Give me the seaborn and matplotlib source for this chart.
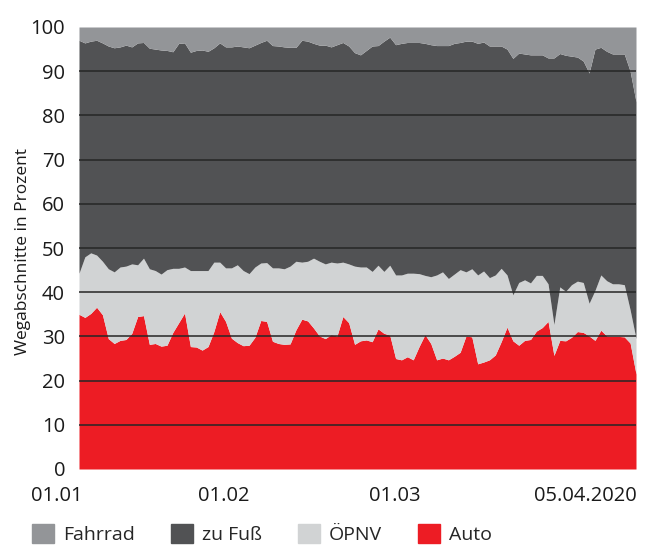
import numpy as np
import pandas as pd
import seaborn as sns
import matplotlib.pyplot as plt
from matplotlib.patches import Patch

# daily shares of trips (Wegabschnitte) in percent, 01.01.2020 - 05.04.2020
auto = [35.0, 34.3, 35.2, 36.6, 34.9, 29.5, 28.4, 29.1, 29.3, 30.7,
        34.5, 34.7, 28.2, 28.4, 27.8, 28.0, 30.9, 33.1, 35.3, 27.7,
        27.6, 26.9, 27.7, 31.1, 35.6, 33.4, 29.6, 28.6, 27.9, 28.0,
        29.8, 33.6, 33.4, 28.9, 28.4, 28.2, 28.3, 31.5, 33.9, 33.5,
        31.9, 30.1, 29.5, 30.4, 30.1, 34.5, 33.1, 28.2, 29.0, 29.2,
        28.8, 31.7, 30.7, 30.3, 25.0, 24.7, 25.4, 24.7, 27.7, 30.4,
        28.4, 24.7, 25.1, 24.7, 25.5, 26.4, 30.1, 29.9, 23.8, 24.2,
        24.7, 25.8, 28.8, 32.1, 29.0, 28.0, 29.1, 29.3, 31.2, 32.0,
        33.4, 25.7, 29.1, 29.0, 29.8, 31.1, 30.9, 30.1, 29.1, 31.4,
        30.1, 30.0, 30.0, 29.9, 28.5, 21.5]
oepnv = [9.3, 13.7, 13.7, 11.8, 12.1, 15.8, 16.2, 16.6, 16.6, 15.7,
         11.7, 13.0, 17.1, 16.5, 16.3, 17.1, 14.5, 12.3, 10.4, 17.2,
         17.3, 18.0, 17.2, 15.7, 11.2, 12.1, 15.9, 17.6, 17.0, 16.2,
         15.9, 13.0, 13.3, 16.6, 17.1, 17.1, 17.6, 15.5, 12.9, 13.5,
         15.8, 16.9, 16.9, 16.4, 16.5, 12.3, 13.3, 17.7, 16.7, 16.5,
         15.9, 14.4, 14.0, 15.8, 18.9, 19.2, 18.9, 19.6, 16.5, 13.4,
         15.1, 19.2, 19.5, 18.4, 18.6, 18.7, 14.5, 15.4, 20.1, 20.6,
         18.6, 18.1, 16.6, 11.8, 10.4, 14.2, 13.7, 12.8, 12.6, 11.8,
         8.5, 7.0, 12.1, 11.2, 11.9, 11.4, 11.3, 7.4, 11.3, 12.5,
         12.5, 11.9, 11.9, 11.8, 7.5, 8.0]
zu_fuss = [52.7, 48.4, 47.9, 48.6, 49.4, 50.4, 50.7, 49.8, 50.0, 49.1,
           50.2, 48.8, 49.9, 50.1, 50.7, 49.6, 49.0, 50.9, 50.7, 49.4,
           49.8, 49.9, 49.6, 48.5, 49.6, 50.0, 50.0, 49.5, 50.6, 51.1,
           50.2, 49.9, 50.3, 50.3, 50.2, 50.2, 49.5, 48.4, 50.2, 49.8,
           48.6, 48.9, 49.5, 48.7, 49.4, 49.7, 49.3, 48.3, 48.0, 49.0,
           51.0, 49.7, 52.1, 51.6, 52.1, 52.4, 52.2, 52.2, 52.3, 52.5,
           52.5, 51.9, 51.2, 52.7, 52.2, 51.4, 52.2, 51.5, 52.4, 51.8,
           52.4, 51.8, 50.3, 51.1, 53.5, 51.9, 51.1, 51.6, 49.9, 49.9,
           51.1, 60.3, 52.8, 53.4, 51.7, 50.7, 50.1, 52.1, 54.6, 51.5,
           51.9, 52.0, 52.0, 52.2, 54.0, 53.6]
fahrrad = [3.0, 3.6, 3.2, 3.0, 3.6, 4.3, 4.7, 4.5, 4.1, 4.5,
           3.6, 3.5, 4.8, 5.0, 5.2, 5.3, 5.6, 3.7, 3.6, 5.7,
           5.3, 5.2, 5.5, 4.7, 3.6, 4.5, 4.5, 4.3, 4.5, 4.7,
           4.1, 3.5, 3.0, 4.2, 4.3, 4.5, 4.6, 4.6, 3.0, 3.2,
           3.7, 4.1, 4.1, 4.5, 4.0, 3.5, 4.3, 5.8, 6.3, 5.3,
           4.3, 4.2, 3.2, 2.3, 4.0, 3.7, 3.5, 3.5, 3.5, 3.7,
           4.0, 4.2, 4.2, 4.2, 3.7, 3.5, 3.2, 3.2, 3.7, 3.4,
           4.3, 4.3, 4.3, 5.0, 7.1, 5.9, 6.1, 6.3, 6.3, 6.3,
           7.0, 7.0, 6.0, 6.4, 6.6, 6.8, 7.7, 10.4, 5.0, 4.6,
           5.5, 6.1, 6.1, 6.1, 10.0, 16.9]

modes = ["Auto", "ÖPNV", "zu Fuß", "Fahrrad"]
colors = ["#ed1c24", "#d1d3d4", "#515254", "#939598"]
legend_order = ["Fahrrad", "zu Fuß", "ÖPNV", "Auto"]

# x labels as they sit under the axis (day offset from 01.01)
xlabels = ["01.01", "01.02", "01.03", "05.04.2020"]
xlabel_pos = [-3.75, 24.7, 53.9, 95.2]

days = pd.date_range("2020-01-01", "2020-04-05", freq="D")
df = pd.DataFrame({"Auto": auto, "ÖPNV": oepnv, "zu Fuß": zu_fuss,
                   "Fahrrad": fahrrad}, index=days)
df["tag"] = np.arange(len(df))

sns.set_theme(style="white")
plt.rcParams["font.family"] = ["Open Sans", "DejaVu Sans"]

fig = plt.figure(figsize=(6.5, 5.45), dpi=100)
ax = fig.add_axes([79 / 650, 1 - 469 / 545, 557 / 650, 442 / 545])

ax.stackplot(df["tag"], [df[m] for m in modes], colors=colors,
             linewidth=0, zorder=1)
for v in range(10, 100, 10):
    ax.axhline(v, color="#262626", lw=1.3, alpha=0.85, zorder=2)

ax.set_xlim(0, len(df) - 1)
ax.set_ylim(0, 100)
ax.set_yticks(range(0, 101, 10))
ax.tick_params(axis="y", labelsize=14.5, length=0, pad=10, colors="#1a1a1a")
ax.set_xticks([])
for s in ax.spines.values():
    s.set_visible(False)
fig.text(23 / 650, 1 - 251 / 545, "Wegabschnitte in Prozent", rotation=90,
         ha="center", va="center", fontsize=12.5, color="#1a1a1a")

trans = ax.get_xaxis_transform()
for lab, pos in zip(xlabels, xlabel_pos):
    ha = "right" if lab == xlabels[-1] else "center"
    ax.text(pos, -0.061, lab, transform=trans, ha=ha, va="center",
            fontsize=14.5, color="#1a1a1a", clip_on=False)

handles = [Patch(color=colors[modes.index(m)]) for m in legend_order]
fig.legend(handles, legend_order, loc="center left",
           bbox_to_anchor=(26 / 650, 0.02), ncol=4, frameon=False,
           fontsize=14, handlelength=1.15, handleheight=1.15,
           handletextpad=0.45, columnspacing=1.85, borderpad=0.3,
           borderaxespad=0)

fig.savefig("out.png", dpi=100)
